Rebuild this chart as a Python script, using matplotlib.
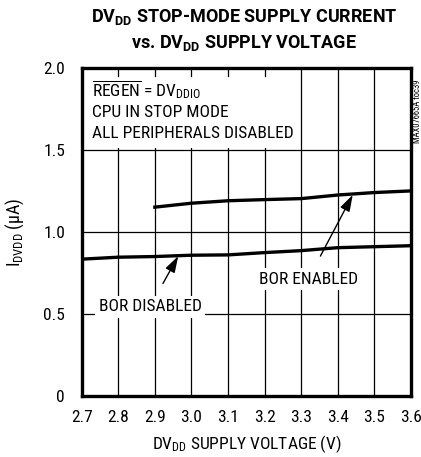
import matplotlib.pyplot as plt

plt.rcParams['font.family'] = ['Roboto Condensed', 'DejaVu Sans']
plt.rcParams['font.stretch'] = 'condensed'
plt.rcParams['mathtext.fontset'] = 'custom'
plt.rcParams['mathtext.rm'] = 'Roboto Condensed'
plt.rcParams['mathtext.bf'] = 'Roboto:bold'
plt.rcParams['mathtext.default'] = 'rm'

# supply voltage (V) and stop-mode current (uA)
v_enabled = [2.9, 3.0, 3.1, 3.2, 3.3, 3.4, 3.5, 3.6]
i_enabled = [1.151, 1.175, 1.19, 1.197, 1.203, 1.225, 1.24, 1.25]
v_disabled = [2.7, 2.8, 2.9, 3.0, 3.1, 3.2, 3.3, 3.4, 3.5, 3.6]
i_disabled = [0.834, 0.846, 0.85, 0.858, 0.86, 0.874, 0.886, 0.904, 0.91, 0.916]

xticks = [2.7, 2.8, 2.9, 3.0, 3.1, 3.2, 3.3, 3.4, 3.5, 3.6]
yticks = [0, 0.5, 1.0, 1.5, 2.0]
yticklabels = ['0', '0.5', '1.0', '1.5', '2.0']

fig = plt.figure(figsize=(4.21, 4.57), dpi=100)
ax = fig.add_axes([0.194, 0.1335, 0.782, 0.718])

ax.set_xlim(2.7, 3.6)
ax.set_ylim(0, 2.0)

# grid
for x in xticks[1:-1]:
    ax.plot([x, x], [0, 2.0], color='black', lw=0.9, zorder=1)
for y in yticks[1:-1]:
    ax.plot([2.7, 3.6], [y, y], color='black', lw=0.9, zorder=1)

# blank panel for the conditions text, with short ticks left at the top
ax.fill_between([2.7, 3.29], 1.51, 2.0, color='white', zorder=2, lw=0)
for x in xticks[1:6]:
    ax.plot([x, x], [1.95, 2.0], color='black', lw=0.9, zorder=3)

ax.plot(v_enabled, i_enabled, color='black', lw=2.4, zorder=4)
ax.plot(v_disabled, i_disabled, color='black', lw=2.4, zorder=4)

for s in ax.spines.values():
    s.set_linewidth(2.4)
fs = 12.5
ax.tick_params(length=0, labelsize=fs)
ax.tick_params(axis='x', pad=10)
ax.tick_params(axis='y', pad=12)
ax.set_xticks(xticks)
ax.set_xticklabels([f'{x:.1f}' for x in xticks])
ax.set_yticks(yticks)
ax.set_yticklabels(yticklabels)

ax.text(2.728, 1.825, r'$\overline{REGEN}$ = DV$_{DDIO}$', fontsize=fs, va='baseline', zorder=5)
ax.text(2.728, 1.703, 'CPU IN STOP MODE', fontsize=fs, va='baseline', zorder=5)
ax.text(2.728, 1.571, 'ALL PERIPHERALS DISABLED', fontsize=fs, va='baseline', zorder=5)

arrow = dict(arrowstyle='-|>,head_length=0.8,head_width=0.25',
             color='black', lw=1.0, shrinkA=10, shrinkB=0)
ax.annotate('BOR DISABLED', xy=(2.964, 0.853), xytext=(2.887, 0.545),
            fontsize=fs, ha='center', va='center', zorder=5,
            bbox=dict(boxstyle='square,pad=0.2', fc='white', ec='none'),
            arrowprops=arrow)
ax.annotate('BOR ENABLED', xy=(3.441, 1.226), xytext=(3.319, 0.711),
            fontsize=fs, ha='center', va='center', zorder=5,
            bbox=dict(boxstyle='square,pad=0.2', fc='white', ec='none'),
            arrowprops=arrow)

ax.set_xlabel('DV$_{DD}$ SUPPLY VOLTAGE (V)', fontsize=fs, labelpad=6)
ax.set_ylabel('I$_{DVDD}$ (µA)', fontsize=13, labelpad=12)

fig.text(0.58, 0.962, r'DV$\mathbf{_{DD}}$ STOP-MODE SUPPLY CURRENT', fontsize=13,
         family='Roboto', fontweight='bold', ha='center', va='center')
fig.text(0.58, 0.907, r'vs. DV$\mathbf{_{DD}}$ SUPPLY VOLTAGE', fontsize=13,
         family='Roboto', fontweight='bold', ha='center', va='center')

fig.text(0.9905, 0.757, 'MAX07665A toc39', fontsize=6.2, rotation=90,
         ha='center', va='center')

fig.savefig('out.png', dpi=100)
